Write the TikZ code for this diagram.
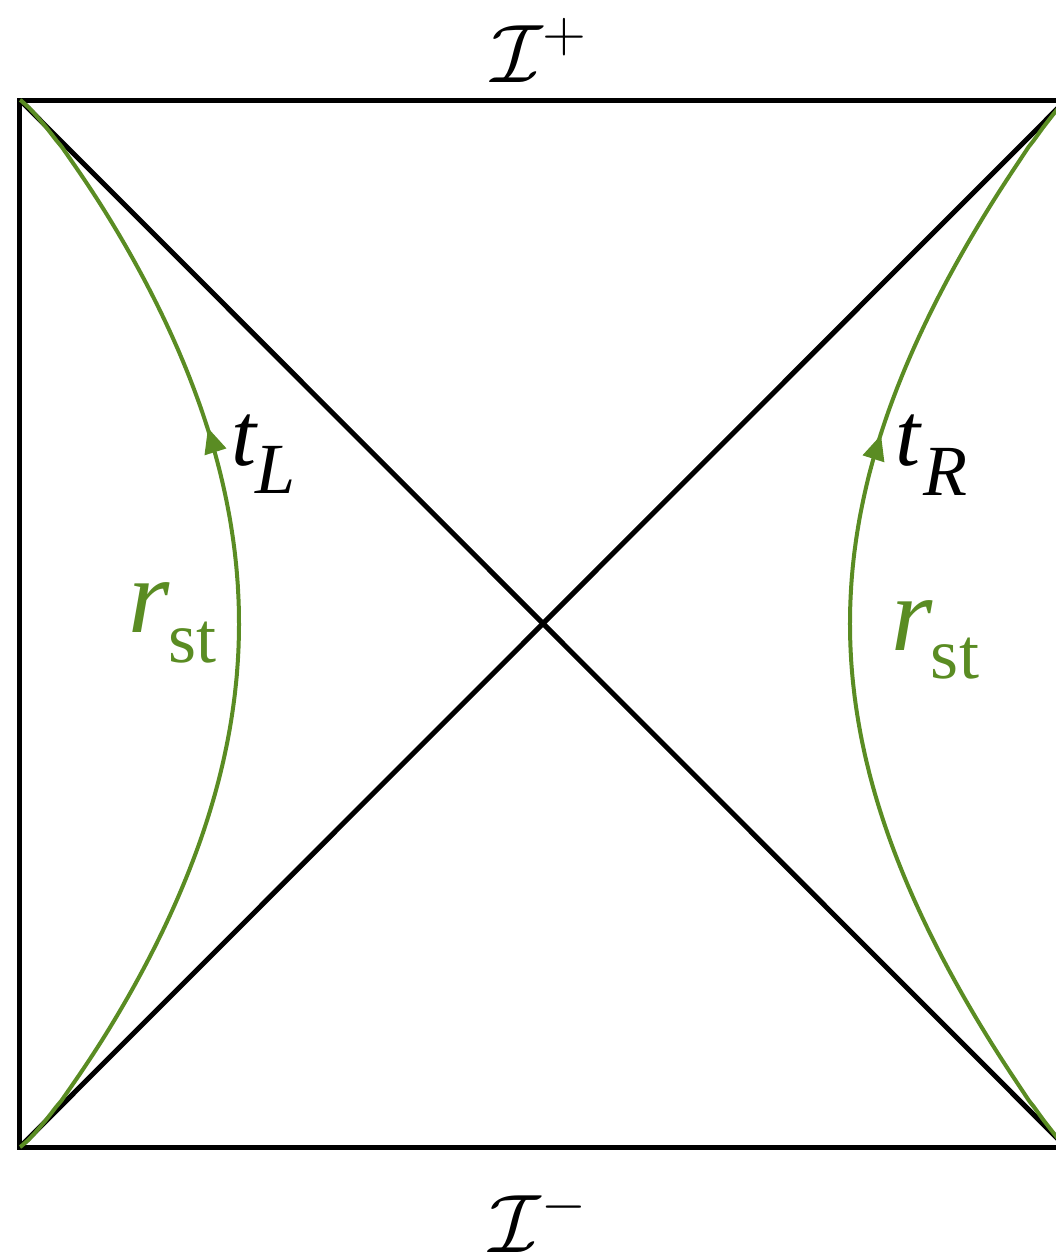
\documentclass[tikz,border=0pt]{standalone}
\usepackage{fontspec}
\setmainfont{Liberation Serif}
\definecolor{stgreen}{RGB}{90,140,35}
\begin{document}
\begin{tikzpicture}[x=0.25pt,y=-0.25pt,
  frame/.style={line width=1.25pt, black, line join=miter},
  worldline/.style={line width=1pt, stgreen},
  lbl/.style={inner sep=0pt, outer sep=0pt},
  bigsz/.style={font=\fontsize{26.5}{28}\selectfont},
  midsz/.style={font=\fontsize{22.5}{24}\selectfont},
  subsz/.style={font=\fontsize{18}{20}\selectfont},
  scri/.style={font=\fontsize{22}{24}\selectfont}]
\clip (0,0) rectangle (1056,1257);
\coordinate (TL) at (20,100);
\coordinate (TR) at (1066,100);
\coordinate (BL) at (20,1147);
\coordinate (BR) at (1066,1147);
% frame and horizons
\draw[frame] (TL) rectangle (BR);
\draw[frame] (TL) -- (BR);
\draw[frame] (BL) -- (TR);
% left static-patch worldline (r = r_st)
\draw[worldline] (BL) -- plot[domain=0.999:-0.999, samples=161, variable=\s]
  ({20 + 219*pow(cos(90*\s),0.85)}, {623.5 + 523.5*\s}) -- (TL);
% right static-patch worldline (r = r_st)
\draw[worldline] (BR) -- plot[domain=0.999:-0.999, samples=161, variable=\s]
  ({1066 - 216*pow(cos(90*\s),0.9)}, {623.5 + 523.5*\s}) -- (TR);
% arrowheads
\fill[stgreen] (208,428) -- (226.5,448.4) -- (204.5,455.3) -- cycle;
\fill[stgreen] (881,435) -- (884.4,462.3) -- (862.5,455.3) -- cycle;
% labels
\node[lbl, anchor=base, scri] (Iplus) at (540,82) {$\mathcal{I}^+$};
\node[lbl, anchor=base, scri] (Iminus) at (539,1252) {$\mathcal{I}^-$};
\node[lbl, anchor=base west, midsz] (tL) at (231,465) {\itshape t};
\node[lbl, anchor=base west, subsz] (tLs) at (255,493) {\itshape L};
\node[lbl, anchor=base west, midsz] (tR) at (896,465) {\itshape t};
\node[lbl, anchor=base west, subsz] (tRs) at (923,495) {\itshape R};
\node[lbl, anchor=base west, bigsz, text=stgreen] (rL) at (128,632) {\itshape r};
\node[lbl, anchor=base west, subsz, text=stgreen] (rLs) at (168,662) {st};
\node[lbl, anchor=base west, bigsz, text=stgreen] (rR) at (891,650) {\itshape r};
\node[lbl, anchor=base west, subsz, text=stgreen] (rRs) at (931,678) {st};
\end{tikzpicture}
\end{document}
